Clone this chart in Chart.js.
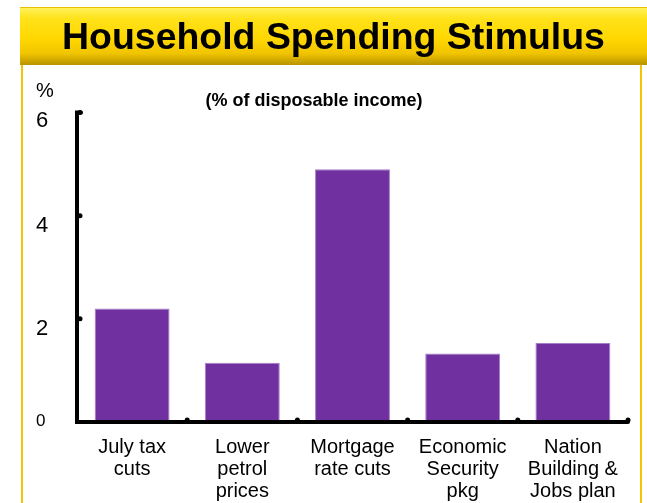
<!DOCTYPE html>
<html>
<head>
<meta charset="utf-8">
<script src="https://cdn.jsdelivr.net/npm/chart.js@4"></script>
<style>
body { margin:0; background:#fff; font-family:"Liberation Sans", Arial, sans-serif; }
#wrap { position:relative; width:647px; height:503px; overflow:hidden; }
#banner { position:absolute; left:20px; top:7px; width:640px; height:58px;
  background:linear-gradient(#fff25a 0%, #ffe21a 18%, #ffd700 55%, #f0c400 80%, #b89400 100%);
  border-top:1px solid #e8c000; box-sizing:border-box; }
#banner span { position:absolute; left:0; width:627px; top:8px; text-align:center; font-weight:bold; font-size:36px; color:#000;
  transform:scaleX(1.04); }
.side { position:absolute; top:65px; width:2px; height:440px; background:#f6c300; }
#pct { position:absolute; left:36px; top:79px; font-size:20px; }
canvas { position:absolute; left:0; top:0; }
</style>
</head>
<body>
<div id="wrap">
  <canvas id="myChart" width="647" height="503"></canvas>
  <div id="banner"><span>Household Spending Stimulus</span></div>
  <div class="side" style="left:21px"></div>
  <div class="side" style="left:640px"></div>
  <div id="pct">%</div>
</div>
<script>
var categories = [["July tax", "cuts"], ["Lower", "petrol", "prices"], ["Mortgage", "rate cuts"], ["Economic", "Security", "pkg"], ["Nation", "Building &", "Jobs plan"]];
var values = [2.2, 1.15, 4.9, 1.33, 1.53];
var yTicks = [0, 2, 4, 6];
var barColor = "#7030a0";

// thick axes, tick dots and odd sized y labels like the original
var axisPlugin = {
    id: "axisPlugin",
    afterDraw: function(chart){
        var ctx = chart.ctx;
        var x = chart.scales.x;
        var y = chart.scales.y;
        var area = chart.chartArea;
        ctx.save();
        ctx.strokeStyle = "#000";
        ctx.lineWidth = 4;
        ctx.lineCap = "round";
        ctx.beginPath();
        ctx.moveTo(area.left + 4, y.getPixelForValue(6));
        ctx.lineTo(area.left, y.getPixelForValue(6));
        ctx.lineTo(area.left, y.getPixelForValue(0));
        ctx.lineTo(area.right, y.getPixelForValue(0));
        ctx.stroke();
        ctx.fillStyle = "#000";
        yTicks.forEach(function(v){
            var py = y.getPixelForValue(v);
            if(v > 0){
                ctx.beginPath();
                ctx.arc(area.left + 3, py, 2.5, 0, Math.PI*2);
                ctx.fill();
            }
            var size = v == 0 ? 17 : 22;
            ctx.font = size + "px 'Liberation Sans', Arial";
            ctx.textBaseline = "middle";
            ctx.textAlign = "left";
            ctx.fillText(String(v), 36, py + (v == 0 ? -1 : (v == 6 ? 8 : 10)));
        });
        for(var i = 1; i <= categories.length; i++){
            var px = (x.getPixelForValue(i - 1) + (i < categories.length ? x.getPixelForValue(i) : 2*x.getPixelForValue(i-1) - x.getPixelForValue(i-2))) / 2;
            ctx.beginPath();
            ctx.arc(px, y.getPixelForValue(0) - 2, 2.5, 0, Math.PI*2);
            ctx.fill();
        }
        ctx.restore();
    }
};

new Chart("myChart", {
    type: "bar",
    data: {
        labels: categories,
        datasets: [{
            data: values,
            backgroundColor: barColor,
            borderColor: "#a77fc6",
            borderWidth: 1,
            categoryPercentage: 0.68,
            barPercentage: 1
        }]
    },
    options: {
        responsive: false,
        animation: false,
        layout: { padding: { top: 0, right: 19, left: 0, bottom: 0 } },
        plugins: {
            legend: { display: false },
            tooltip: { enabled: false },
            title: {
                display: true,
                text: "(% of disposable income)",
                color: "#000",
                font: { family: "'Liberation Sans', Arial", size: 18, weight: "bold" },
                padding: { top: 90, bottom: 1 }
            }
        },
        scales: {
            y: {
                min: 0,
                max: 6,
                ticks: { display: false, stepSize: 2 },
                grid: { display: false },
                border: { display: false },
                afterFit: function(s){ s.width = 77; }
            },
            x: {
                grid: { display: false },
                border: { display: false },
                ticks: {
                    color: "#000",
                    maxRotation: 0,
                    padding: 6,
                    font: { family: "'Liberation Sans', Arial", size: 20, lineHeight: 1.1 }
                },
                afterFit: function(s){ s.height = 81; }
            }
        }
    },
    plugins: [axisPlugin]
});
</script>
</body>
</html>
